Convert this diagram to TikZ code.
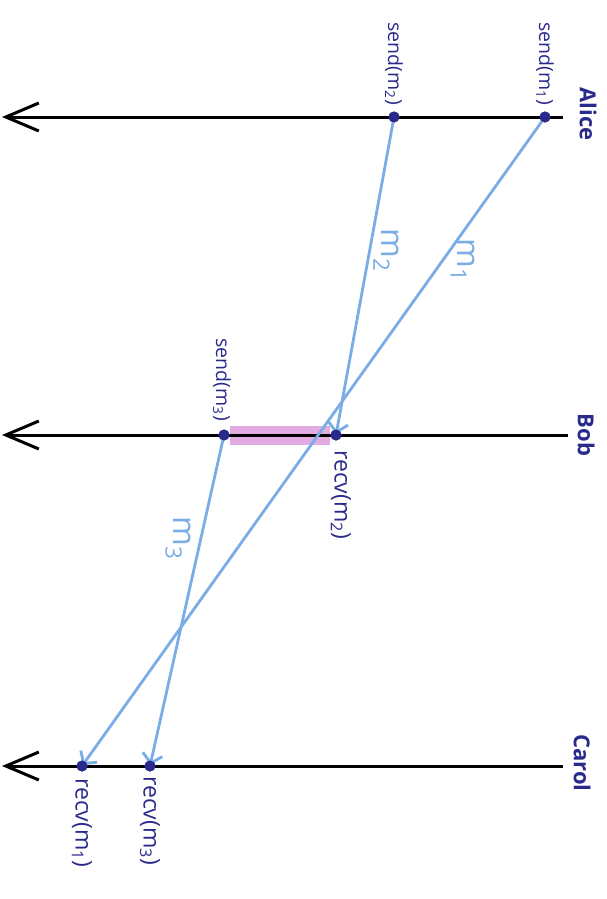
\documentclass[tikz,border=0pt]{standalone}
\usepackage{fontspec}
\setmainfont{Open Sans}
\usetikzlibrary{arrows.meta,calc}
\definecolor{ink}{RGB}{42,42,140}
\definecolor{msg}{RGB}{122,172,230}
\definecolor{hl}{RGB}{226,172,226}
\begin{document}
\begin{tikzpicture}[x=1pt,y=-1pt,
  timeline/.style={line width=3pt,black,-{Straight Barb[length=33pt,width=28pt,line width=3pt]}},
  msgline/.style={line width=2.8pt,msg,-{Straight Barb[length=9pt,width=20pt,line width=2.8pt]},shorten >=1pt},
  evdot/.style={circle,fill=ink,inner sep=0pt,minimum size=11pt},
  evlbl/.style={text=ink,font=\fontsize{19.5}{19.5}\selectfont,rotate=-90,inner sep=0pt},
  rvlbl/.style={evlbl,font=\fontsize{23}{23}\selectfont},
  proc/.style={text=ink,font=\fontsize{22}{22}\selectfont\bfseries,rotate=-90,inner sep=0pt},
  msglbl/.style={text=msg,font=\fontsize{32}{32}\selectfont,rotate=-90,inner sep=0pt}]
\useasboundingbox (0,0) rectangle (606,899);
% highlight
\fill[hl] (230,426) rectangle (330,445);
% timelines
\coordinate (aR) at (563,117); \coordinate (aL) at (2,117);
\coordinate (bR) at (568,435); \coordinate (bL) at (2,435);
\coordinate (cR) at (563,766); \coordinate (cL) at (2,766);
\draw[timeline] (aR) -- (aL);
\draw[timeline] (bR) -- (bL);
\draw[timeline] (cR) -- (cL);
% process names
\node[proc] (alice) at (588,114) {Alice};
\node[proc] (bob) at (586,435) {Bob};
\node[proc] (carol) at (582,763) {Carol};
% events
\node[evdot] (s1) at (545,117) {};
\node[evdot] (s2) at (394,117) {};
\node[evdot] (s3) at (224,435) {};
\node[evdot] (r2) at (336,435) {};
\node[evdot] (r1) at (82,766) {};
\node[evdot] (r3) at (150,766) {};
% messages
\draw[msgline] (s1.center) -- (r1.center);
\draw[msgline] (s2.center) -- (r2.center);
\draw[msgline] (s3.center) -- (r3.center);
% redraw dots on top
\foreach \d in {s1,s2,s3,r1,r2,r3} \fill[ink] (\d) circle (5.5pt);
% message labels
\node[msglbl] (m1) at (463,260) {m\textsubscript{1}};
\node[msglbl] (m2) at (386,250) {m\textsubscript{2}};
\node[msglbl] (m3) at (178,538) {m\textsubscript{3}};
% event labels
\node[evlbl,anchor=east] (ls1) at ($(s1)+(0,-12)$) {send(m\textsubscript{1})};
\node[evlbl,anchor=east] (ls2) at ($(s2)+(0,-12)$) {send(m\textsubscript{2})};
\node[evlbl,anchor=east] (ls3) at ($(s3)+(-2,-14)$) {send(m\textsubscript{3})};
\node[rvlbl,anchor=west] (lr2) at ($(r2)+(5,15)$) {recv(m\textsubscript{2})};
\node[rvlbl,anchor=west] (lr1) at ($(r1)+(0,12)$) {recv(m\textsubscript{1})};
\node[rvlbl,anchor=west] (lr3) at ($(r3)+(0,10)$) {recv(m\textsubscript{3})};
\end{tikzpicture}
\end{document}
